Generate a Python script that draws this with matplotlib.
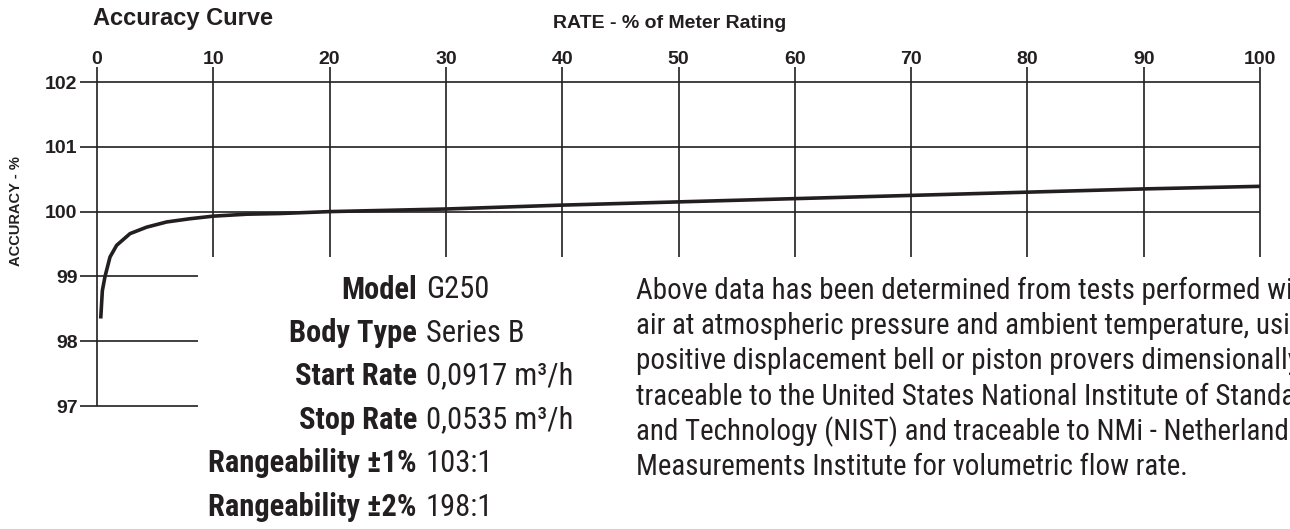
import matplotlib
matplotlib.use("Agg")
import matplotlib.pyplot as plt
from matplotlib import font_manager

# ---------------- data ----------------
rate = [0.32, 0.46, 0.69, 1.12, 1.69, 2.84, 4.27, 5.99, 8.0, 10, 12.9, 15.7, 20,
        30, 40, 50, 60, 70, 80, 90, 100]
accuracy = [98.35, 98.78, 99.0, 99.3, 99.48, 99.66, 99.76, 99.84, 99.89, 99.93, 99.96, 99.97, 100.0,
            100.04, 100.1, 100.15, 100.2, 100.25, 100.3, 100.35, 100.39]
x_ticks = [0, 10, 20, 30, 40, 50, 60, 70, 80, 90, 100]
y_ticks = [97, 98, 99, 100, 101, 102]
spec_labels = ["Model", "Body Type", "Start Rate", "Stop Rate", "Rangeability \u00b11%", "Rangeability \u00b12%"]
spec_values = ["G250", "Series B", "0,0917 m\u00b3/h", "0,0535 m\u00b3/h", "103:1", "198:1"]
note_lines = [
    "Above data has been determined from tests performed with",
    "air at atmospheric pressure and ambient temperature, using",
    "positive displacement bell or piston provers dimensionally",
    "traceable to the United States National Institute of Standards",
    "and Technology (NIST) and traceable to NMi - Netherlands",
    "Measurements Institute for volumetric flow rate.",
]

INK = "#231f20"
W, H = 1290, 529

available = {f.name for f in font_manager.fontManager.ttflist}
narrow = "Roboto Condensed" if "Roboto Condensed" in available else "DejaVu Sans"
plt.rcParams["font.family"] = ["Liberation Sans", "DejaVu Sans"]

fig = plt.figure(figsize=(W / 100, H / 100), dpi=100)
fig.patch.set_facecolor("white")

# axes: x 0..100 maps to px 97..1260 ; y 97..102 maps to px 406..82
ax = fig.add_axes([97 / W, (H - 406) / H, (1260 - 97) / W, (406 - 82) / H])
ax.set_xlim(0, 100)
ax.set_ylim(97, 102)
for s in ax.spines.values():
    s.set_visible(False)
ax.patch.set_visible(False)

gw = 1.2
# horizontal grid
for y in y_ticks:
    xend = 100 if y >= 100 else 8.7
    ax.plot([-1.46, xend], [y, y], color=INK, lw=gw, clip_on=False, solid_capstyle="butt")
# vertical grid
for x in x_ticks:
    ybot = 97 if x == 0 else 99.3
    ax.plot([x, x], [ybot, 102.23], color=INK, lw=gw, clip_on=False, solid_capstyle="butt")

ax.plot(rate, accuracy, color=INK, lw=2.6, solid_capstyle="butt", clip_on=False)

ax.xaxis.tick_top()
ax.set_xticks(x_ticks)
ax.set_xticklabels([str(t) for t in x_ticks], fontweight="bold", fontsize=14, color=INK)
ax.set_yticks(y_ticks)
ax.set_yticklabels([str(t) for t in y_ticks], fontweight="bold", fontsize=14, color=INK)
ax.tick_params(axis="x", length=0, pad=10)
ax.tick_params(axis="y", length=0, pad=14)

fig.text(93 / W, 1 - 18 / H, "Accuracy Curve", fontsize=17, fontweight="bold",
         color=INK, ha="left", va="center")
fig.text(670 / W, 1 - 24 / H, "RATE - % of Meter Rating", fontsize=14, fontweight="bold",
         color=INK, ha="center", va="center")
fig.text(16 / W, 1 - 211 / H, "ACCURACY - %", fontsize=10.5, fontweight="bold",
         color=INK, ha="center", va="center", rotation=90)

row_y = [290, 333, 376, 420, 463, 507]
for lab, val, py in zip(spec_labels, spec_values, row_y):
    fig.text(417 / W, 1 - py / H, lab, fontsize=22, fontweight="bold", family=[narrow, "DejaVu Sans"],
             color=INK, ha="right", va="center")
    fig.text(426 / W, 1 - py / H, val, fontsize=22, family=[narrow, "DejaVu Sans"],
             color=INK, ha="left", va="center")

note_y = [291, 326, 361, 397, 432, 467]
for line, py in zip(note_lines, note_y):
    fig.text(636 / W, 1 - py / H, line, fontsize=20.9, family=[narrow, "DejaVu Sans"],
             color=INK, ha="left", va="center")

fig.savefig("out.png", dpi=100, facecolor="white")
